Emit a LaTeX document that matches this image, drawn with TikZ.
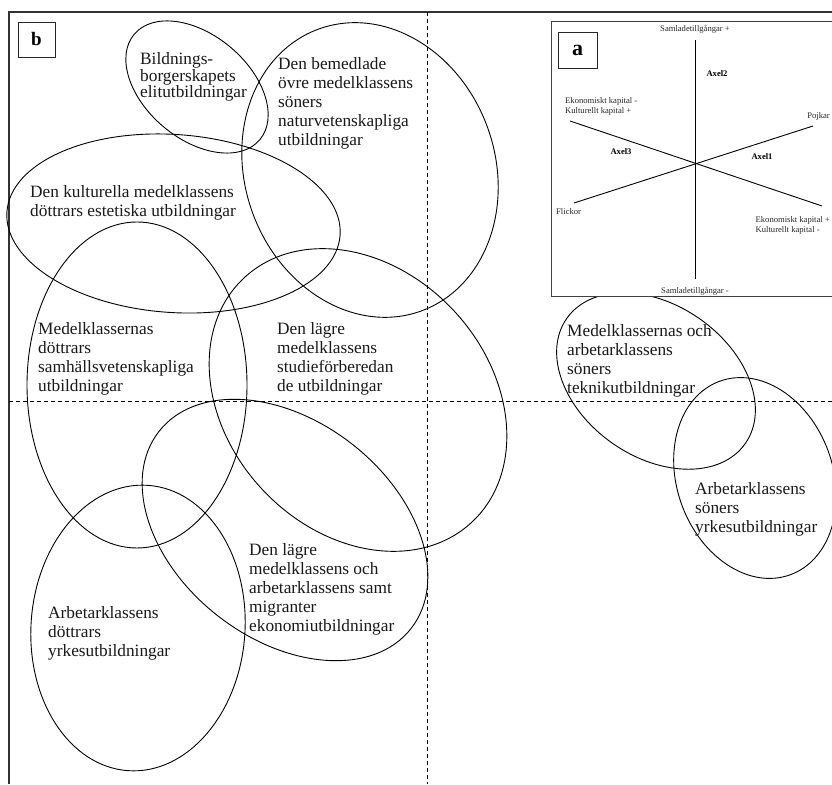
\documentclass[tikz,border=0pt]{standalone}
\usepackage{fontspec}
\setmainfont{Liberation Serif}
\begin{document}
\begin{tikzpicture}[x=1pt,y=1pt,
  lbl/.style={anchor=west, align=left, inner sep=0pt, text=black!90, font=\fontsize{17.3}{19}\selectfont},
  ell/.style={line width=0.9pt, black},
  frameline/.style={line width=1.1pt, black!80},
  dashline/.style={line width=0.9pt, black, dash pattern=on 4pt off 3pt},
  tiny/.style={inner sep=0pt, text=black!85, font=\fontsize{8.6}{10}\selectfont},
  tinyb/.style={inner sep=0pt, text=black, font=\fontsize{8.6}{10}\selectfont\bfseries},
  axisline/.style={line width=0.9pt, black}]
\useasboundingbox (0,0) rectangle (832,784);
\fill[white] (0,0) rectangle (832,784);
% outer frame
\coordinate (ftl) at (9,772);
\coordinate (ftr) at (832,772);
\coordinate (fbl) at (9,0);
\draw[frameline] (ftr) -- (ftl) -- (fbl);
% dashed axes
\coordinate (vt) at (427,772);
\coordinate (vb) at (427,0);
\coordinate (hl) at (9,383);
\coordinate (hr) at (832,383);
\draw[dashline] (vt) -- (vb);
\draw[dashline] (hl) -- (hr);
% ellipses
\draw[ell] (197,697) ellipse [x radius=82, y radius=52, rotate=-40];
\draw[ell] (370,614) ellipse [x radius=125, y radius=150, rotate=20];
\draw[ell] (173.5,560.5) ellipse [x radius=167, y radius=89, rotate=-4];
\draw[ell] (137,399) ellipse [x radius=110, y radius=163];
\draw[ell] (358,384) ellipse [x radius=167, y radius=131, rotate=-47];
\draw[ell] (285,254) ellipse [x radius=160, y radius=109, rotate=-38];
\draw[ell] (138,156) ellipse [x radius=107, y radius=143, rotate=-4];
\draw[ell] (656,403) ellipse [x radius=109, y radius=76, rotate=-35];
\draw[ell] (755,306) ellipse [x radius=78, y radius=103, rotate=20];
% labels
\node[lbl, font=\fontsize{17.3}{15}\selectfont] (bild) at (140,707) {Bildnings-\\borgerskapets\\elitutbildningar};
\node[lbl] (bemed) at (278,681) {Den bemedlade\\övre medelklassens\\söners\\naturvetenskapliga\\utbildningar};
\node[lbl] (kult) at (30,581.5) {Den kulturella medelklassens\\döttrars estetiska utbildningar};
\node[lbl] (samh) at (38,425.5) {Medelklassernas\\döttrars\\samhällsvetenskapliga\\utbildningar};
\node[lbl] (stud) at (277,425.5) {Den lägre\\medelklassens\\studieförberedan\\de utbildningar};
\node[lbl] (ekon) at (249,195) {Den lägre\\medelklassens och\\arbetarklassens samt\\migranter\\ekonomiutbildningar};
\node[lbl] (adott) at (48,151) {Arbetarklassens\\döttrars\\yrkesutbildningar};
\node[lbl] (tekn) at (567,423) {Medelklassernas och\\arbetarklassens\\söners\\teknikutbildningar};
\node[lbl] (ason) at (695,275) {Arbetarklassens\\söners\\yrkesutbildningar};
% b box
\node[draw=black!85, line width=0.9pt, minimum width=37pt, minimum height=35pt, inner sep=0pt,
      font=\fontsize{19}{21}\selectfont\bfseries] (bbox) at (36.5,744.5) {b};
% inset a
\filldraw[fill=white, draw=black!75, line width=1pt] (551,762) rectangle (845,487);
\node[draw=black!85, line width=0.9pt, minimum width=39pt, minimum height=36pt, inner sep=0pt,
      font=\fontsize{22}{24}\selectfont\bfseries] (abox) at (577.5,734) {a};
\coordinate (c) at (695,620);
\coordinate (vtop) at (695,744);
\coordinate (vbot) at (695,505);
\coordinate (fl) at (574,581);
\coordinate (pj) at (813,658);
\coordinate (ekl) at (570,663);
\coordinate (ekr) at (822,578);
\draw[axisline] (vtop) -- (vbot);
\draw[axisline] (fl) -- (pj);
\draw[axisline] (ekl) -- (ekr);
\node[tiny] (stop) at (695,755) {Samladetillgångar +};
\node[tiny] (sbot) at (695,493) {Samladetillgångar -};
\node[tinyb] (ax2) at (717,710) {Axel2};
\node[tinyb] (ax3) at (621,632) {Axel3};
\node[tinyb] (ax1) at (762,627) {Axel1};
\node[tiny, anchor=west, align=left] (ekm) at (565,678) {Ekonomiskt kapital -\\Kulturellt kapital +};
\node[tiny, anchor=east] (pojk) at (830,668) {Pojkar};
\node[tiny, anchor=west] (flick) at (556,572) {Flickor};
\node[tiny, anchor=east, align=left] (ekp) at (830,559) {Ekonomiskt kapital +\\Kulturellt kapital -};
\end{tikzpicture}
\end{document}
